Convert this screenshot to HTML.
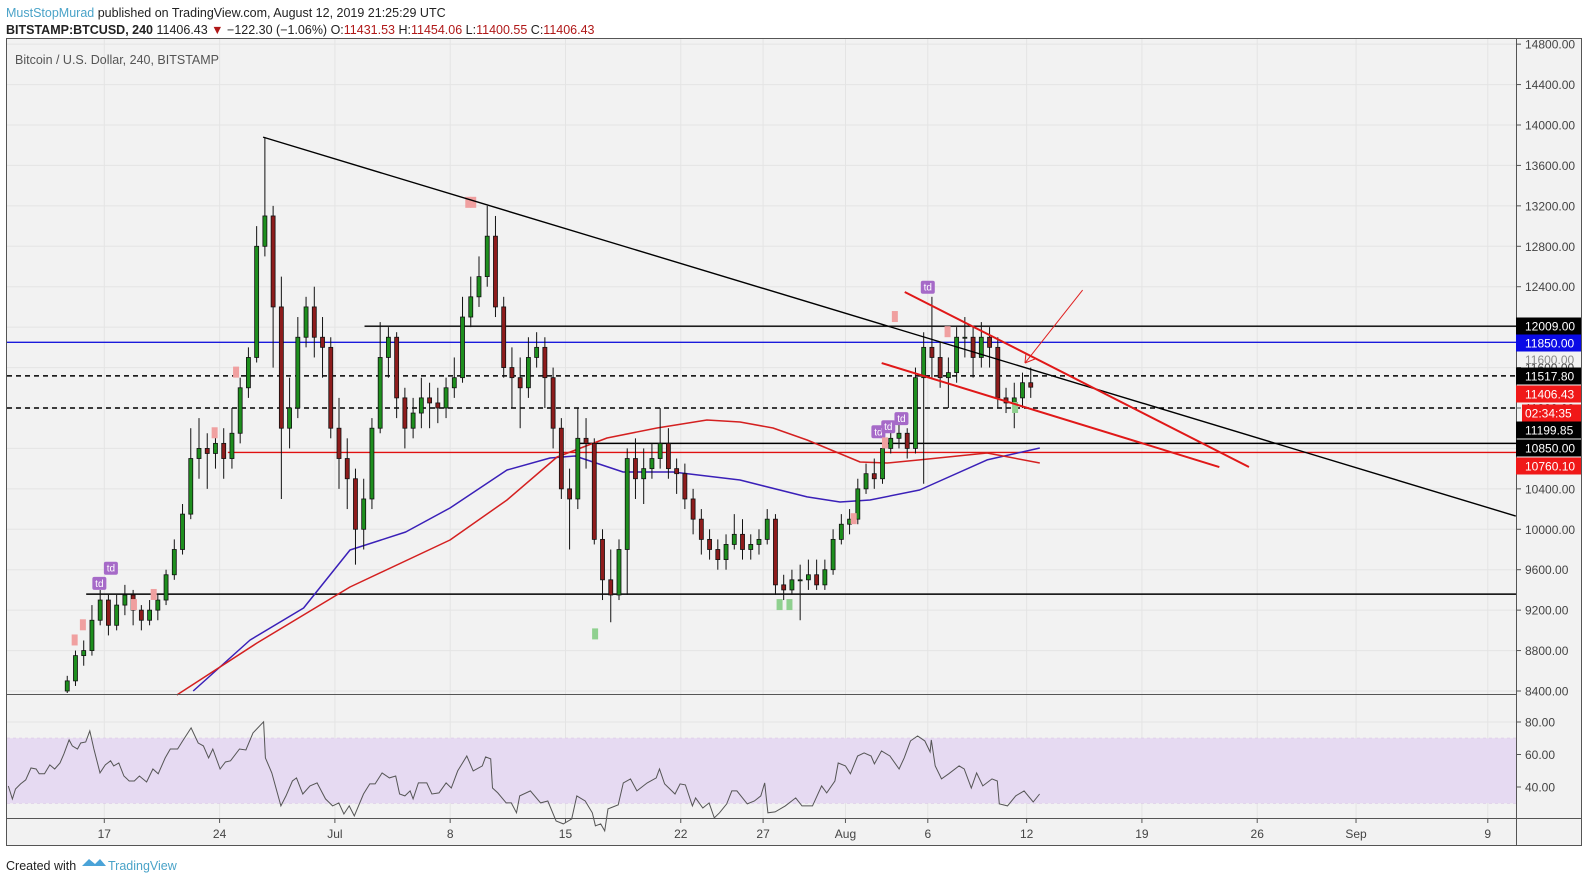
<!DOCTYPE html>
<html><head><meta charset="utf-8">
<style>
html,body{margin:0;padding:0;background:#fff;}
body{width:1588px;height:883px;overflow:hidden;font-family:"Liberation Sans",sans-serif;}
svg text{font-family:"Liberation Sans",sans-serif;}
</style></head>
<body>
<svg id="chart" width="1588" height="883" xmlns="http://www.w3.org/2000/svg">
  <text x="6" y="17" font-size="12.5" fill="#222"><tspan fill="#4aa3c8">MustStopMurad</tspan> published on TradingView.com, August 12, 2019 21:25:29 UTC</text>
  <text x="6" y="34" font-size="12.5" fill="#222"><tspan font-weight="bold">BITSTAMP:BTCUSD, 240</tspan> 11406.43 <tspan fill="#b01818">▼</tspan> −122.30 (−1.06%) O:<tspan fill="#b01818">11431.53</tspan> H:<tspan fill="#b01818">11454.06</tspan> L:<tspan fill="#b01818">11400.55</tspan> C:<tspan fill="#b01818">11406.43</tspan></text>
  <rect x="6.5" y="38.5" width="1575" height="807" fill="#f2f2f2" stroke="#555"/>
  <g id="grid"></g>
  <rect id="rsiband" x="7" y="738" width="1509" height="65" fill="#e6daf2"/>
  <g id="hlines"></g>
  <g id="mas"></g>
  <g id="candles"></g>
  <g id="marks"></g>
  <g id="draw"></g>
  <g id="rsi"></g>
  <line x1="6" y1="694.5" x2="1516" y2="694.5" stroke="#555"/>
  <line x1="6" y1="818.5" x2="1582" y2="818.5" stroke="#555"/>
  <line x1="1516.5" y1="38" x2="1516.5" y2="846" stroke="#555"/>
  <g id="axes"></g>
  <g id="tags"></g>
  <text x="15" y="64" font-size="12.5" fill="#555">Bitcoin / U.S. Dollar, 240, BITSTAMP</text>
  <text x="6" y="870" font-size="12.5" fill="#222">Created with</text>
  <path d="M82 866 l7 -7 l6 5 l5 -5 l6 7 z" fill="#4aa3d8"/>
  <text x="108" y="870" font-size="12.5" fill="#4aa3c8">TradingView</text>
</svg>
<script>
// ---- data ----
const closes=[8500,8750,8800,9100,9300,9050,9250,9350,9200,9100,9200,9300,9550,9800,10150,10700,10800,10750,10850,10700,10950,11400,11700,12800,13100,12200,11000,11200,11900,12200,11900,11800,11000,10700,10500,10000,10300,11000,11700,11900,11300,11000,11150,11300,11250,11200,11400,11500,12100,12300,12500,12900,12200,11600,11500,11400,11700,11800,11500,11000,10400,10300,10900,10850,9900,9500,9350,9800,10700,10500,10600,10700,10850,10600,10550,10300,10100,9900,9800,9700,9850,9950,9800,9850,9900,10100,9450,9400,9500,9500,9550,9450,9600,9900,10050,10100,10400,10550,10500,10800,10900,10950,10800,11500,11800,11700,11500,11550,11900,11900,11700,11900,11800,11300,11250,11300,11450,11406];
const highs=[8550,8800,8900,9250,9400,9350,9350,9450,9400,9250,9300,9350,9600,9900,10250,11000,11100,10950,11000,11000,11200,11500,11800,13000,13880,13200,12500,11500,12100,12300,12400,12100,11900,11300,10900,10600,10500,11100,12050,12000,11950,11400,11300,11500,11450,11400,11500,11700,12300,12500,12700,13200,13100,12300,11800,11700,11900,11950,11900,11600,11100,10600,11200,11100,10900,10000,9800,9900,10800,10900,10800,10850,11200,11000,10700,10650,10400,10200,10000,9900,9950,10150,10100,9950,10000,10200,10150,9550,9600,9650,9700,9700,9700,10000,10150,10200,10500,10650,10700,10900,11050,11100,11000,11600,11950,12300,11850,11700,12000,12100,12000,12050,12000,11900,11400,11450,11550,11600];
const lows=[8350,8450,8650,8750,9050,8950,9000,9150,9050,9000,9050,9100,9250,9500,9750,10100,10500,10400,10600,10500,10600,10850,11300,11650,12700,11600,10300,10800,11100,11800,11700,11500,10900,10400,10200,9650,9800,10200,10950,11500,11100,10800,10900,11000,11000,11050,11100,11300,11450,12000,12200,12400,12100,11500,11200,11000,11300,11600,11200,10800,10300,9800,10200,10600,9850,9300,9080,9300,9350,10300,10250,10500,10600,10500,10350,10200,9950,9750,9700,9600,9600,9800,9700,9700,9750,9850,9350,9300,9350,9100,9400,9400,9400,9550,9850,9950,10050,10350,10400,10450,10750,10800,10700,10750,10450,11500,11400,11200,11450,11700,11500,11600,11600,11200,11150,11000,11200,11300];
const firstOpen=8400;
const startDay=-2.5;
const barDays=0.5;

const ma1Days=[5.4,8.85,12.1,14.92,18.3,20.99,24.45,27.06,28.58,31.5,34.53,38.6,42.67,44.67,46.49,49.5,53.6,56.8];
const ma1Vals=[8400,8905,9221,9795,9973,10211,10587,10705,10725,10567,10567,10488,10320,10270,10290,10389,10686,10804];
const ma2Days=[4.4,9.27,14.92,20.99,24.45,27.49,30.52,33.56,36.59,38.6,40.6,42.67,45.89,47.53,49.5,53.6,56.8];
const ma2Vals=[8360,8875,9429,9894,10290,10715,10903,11002,11081,11061,11002,10883,10666,10656,10686,10755,10656];

const rsiDays=[-5.83,-5.58,-5.39,-5.08,-4.77,-4.45,-4.14,-3.95,-3.63,-3.31,-3.01,-2.69,-2.45,-2.14,-1.94,-1.63,-1.43,-1.13,-0.88,-0.63,-0.26,0.06,0.38,0.57,0.88,1.19,1.51,1.82,2.13,2.57,2.95,3.27,3.70,4.01,4.45,4.76,5.27,5.70,6.02,6.33,6.59,7.03,7.35,7.66,8.21,8.60,9.03,9.67,9.78,10.17,10.72,11.03,11.42,11.67,12.05,12.49,12.92,13.43,13.86,14.24,14.55,14.87,15.18,15.74,16.12,16.44,16.87,17.31,17.69,17.93,18.25,18.57,18.75,19.07,19.58,19.89,20.32,20.75,21.07,21.46,22.01,22.40,22.95,23.15,23.46,23.57,23.89,24.40,24.71,25.03,25.22,25.87,26.49,26.93,27.43,27.87,28.38,28.69,29.20,29.63,29.82,30.14,30.38,30.58,31.20,31.51,31.95,32.34,32.96,33.51,33.71,34.02,34.65,34.96,35.28,35.71,35.90,36.34,36.72,37.04,37.35,37.79,38.10,38.41,39.04,39.47,39.86,40.10,40.29,40.73,41.35,41.98,42.36,43.00,43.55,43.86,44.36,44.56,45.00,45.30,45.74,46.13,46.56,46.76,47.19,47.70,48.26,48.57,48.95,49.38,49.82,50.14,50.21,50.45,50.83,51.27,51.90,52.21,52.64,52.96,53.34,53.90,54.22,54.34,54.84,55.34,55.85,56.40,56.79];
const rsiVals=[40.6,32.6,38.8,41.9,44.4,51.7,51.1,48.1,48.1,53.6,51.1,54.8,60.4,69.0,65.3,63.4,67.1,67.7,74.5,63.4,48.7,53.6,56.1,53.0,54.8,46.8,43.7,43.7,46.8,43.1,51.1,48.1,57.9,63.4,63.4,68.4,76.4,67.1,65.3,57.9,63.4,51.1,55.4,56.1,63.4,62.8,73.3,80.1,57.9,48.7,28.4,34.5,43.7,45.6,35.7,40.7,42.5,32.7,28.4,30.2,23.4,28.4,22.2,35.7,41.9,41.9,48.7,45.6,46.8,35.7,34.5,37.6,32.7,42.5,42.5,35.7,36.4,42.5,39.4,49.9,59.1,49.9,53.0,58.5,57.3,39.4,36.4,30.2,30.2,24.1,34.5,37.6,30.2,31.4,19.1,17.3,20.4,34.5,31.4,24.1,16.1,17.3,13.0,26.5,29.0,42.5,45.0,37.6,42.5,45.6,51.1,41.9,35.7,41.9,41.3,28.4,33.3,27.1,30.2,21.0,24.1,29.6,37.6,37.6,29.6,31.4,34.5,42.5,24.1,24.7,28.4,33.3,28.4,28.4,40.7,36.4,43.7,54.8,53.0,48.1,59.1,61.0,59.1,54.2,62.2,59.1,51.1,57.9,68.4,71.4,68.4,61.6,69.0,53.0,45.0,48.1,53.0,51.1,39.4,48.7,40.7,45.0,43.7,29.6,28.4,34.5,37.6,30.8,35.7];

const priceTicks=[14800,14400,14000,13600,13200,12800,12400,12000,11600,11200,10800,10400,10000,9600,9200,8800,8400];
const rsiTicks=[80,60,40];
const dateLabels=['17','24','Jul','8','15','22','27','Aug','6','12','19','26','Sep','9'];
const dateDays=[0,7,14,21,28,35,40,45,50,56,63,70,76,84];

const levelNames=['resistance-12009','level-11850','level-11517','level-11199','support-10850','level-10760','support-9358'];
const levelPrices=[12009,11850,11517.8,11199.85,10850,10760.1,9358.4];
const levelStartDays=[15.8,-6.0,-6.0,-6.0,28.7,7.5,-1.1];

const trendDays=[9.64,85.7], trendPrices=[13880,10131];
const upperDays=[48.6,69.5], upperPrices=[12348,10616];
const lowerDays=[47.2,67.7], lowerPrices=[11645,10616];
const arrowDays=[59.4,55.9], arrowPrices=[12367,11645];

const tdDays=[-0.3,0.4,50.0,47.0,47.6,48.4];
const tdPrices=[9450,9600,12380,10950,11000,11080];
const pinkDays=[-1.8,-1.3,1.8,3.0,6.7,8.0,22.1,22.4,48.0,51.2,45.5,47.4];
const pinkPrices=[8900,9050,9250,9350,10950,11550,13230,13230,12100,11950,10100,10850];
const greenDays=[29.8,41.0,41.6,55.3];
const greenPrices=[8960,9250,9250,11200];

// ---- axes ----
const X0=104.3, PXD=16.47;
const xDay=d=>X0+d*PXD;
const yP=p=>125+(14000-p)*0.10107;
const yR=v=>722+(80-v)*1.625;
const NS='http://www.w3.org/2000/svg';
function mk(tag,attrs,parent){const e=document.createElementNS(NS,tag);for(const k in attrs)e.setAttribute(k,attrs[k]);document.getElementById(parent).appendChild(e);return e;}

priceTicks.forEach(p=>{const y=yP(p);if(y<40||y>692)return;
 const g=mk('line',{x1:7,x2:1516,y1:y,y2:y,stroke:'#e4e4e4'},'grid');
 
 });
dateDays.forEach(d=>{const x=xDay(d);
 const g=mk('line',{x1:x,x2:x,y1:39,y2:818,stroke:'#e4e4e4'},'grid');
 
 });
[80,60,40].forEach(v=>{const y=yR(v);
 const g=mk('line',{x1:7,x2:1516,y1:y,y2:y,stroke:'#e4e4e4'},'grid');
 
 });
const band=document.getElementById('rsiband');band.setAttribute('y',yR(70));band.setAttribute('height',yR(30)-yR(70));
[70,30].forEach(v=>{const l=mk('line',{x1:7,x2:1516,y1:yR(v),y2:yR(v),stroke:'#d8c4e4','stroke-dasharray':'3,3'},'grid');
 
 });

priceTicks.forEach(p=>{const y=yP(p);if(y<40||y>694)return;
 const t=mk('line',{x1:1516,x2:1521,y1:y,y2:y,stroke:'#555'},'axes');
 
 
 const l=mk('text',{x:1525,y:y+4.5,'font-size':12,fill:'#444'},'axes');l.textContent=p.toFixed(2);
 
 });
rsiTicks.forEach(v=>{const y=yR(v);
 const t=mk('line',{x1:1516,x2:1521,y1:y,y2:y,stroke:'#555'},'axes');
 
 
 const l=mk('text',{x:1525,y:y+4.5,'font-size':12,fill:'#444'},'axes');l.textContent=v.toFixed(2);
 
 });
dateDays.forEach((d,i)=>{const x=xDay(d);
 const t=mk('line',{x1:x,x2:x,y1:818,y2:823,stroke:'#555'},'axes');
 
 
 const l=mk('text',{x:x,y:838,'font-size':12,fill:'#444','text-anchor':'middle'},'axes');l.textContent=dateLabels[i];
 
 });

const levelColors=['#000','#1a1adc','#000','#000','#000','#e01010','#000'];
const levelDash=['','','5,4','5,4','','',''];
levelPrices.forEach((p,i)=>{const y=yP(p);
 const a={x1:Math.max(7,xDay(levelStartDays[i])),x2:1516,y1:y,y2:y,stroke:levelColors[i],'stroke-width':1.4};
 if(levelDash[i])a['stroke-dasharray']=levelDash[i];
 const l=mk('line',a,'hlines');
 
 });

function poly(days,vals){return days.map((d,i)=>xDay(d).toFixed(1)+','+yP(vals[i]).toFixed(1)).join(' ');}
const m1=mk('polyline',{points:poly(ma1Days,ma1Vals),fill:'none',stroke:'#3a20b8','stroke-width':1.5,'stroke-linejoin':'round'},'mas');


const m2=mk('polyline',{points:poly(ma2Days,ma2Vals),fill:'none',stroke:'#d42020','stroke-width':1.5,'stroke-linejoin':'round'},'mas');



closes.forEach((c,i)=>{const o=i===0?firstOpen:closes[i-1];
 const d=startDay+i*barDays+barDays/2;const x=xDay(d);
 const top=Math.min(yP(o),yP(c)), bot=Math.max(yP(o),yP(c));
 const w=mk('line',{x1:x,x2:x,y1:Math.max(39,yP(highs[i])),y2:Math.min(693,yP(lows[i])),stroke:'#111','stroke-width':1},'candles');
 
 
 const b=mk('rect',{x:x-2,y:Math.max(39,top),width:4,height:Math.max(1,Math.min(693,bot)-Math.max(39,top)),fill:c>=o?'#1e8f1e':'#8e1c1c',stroke:'#111','stroke-width':0.8},'candles');
 
 });

tdDays.forEach((d,i)=>{const x=xDay(d),y=yP(tdPrices[i]);
 const r=mk('rect',{x:x-7,y:y-8,width:14,height:13,rx:2,fill:'#a66ac8'},'marks');
 
 
 const t=mk('text',{x:x,y:y+2,'font-size':10,fill:'#fff','text-anchor':'middle'},'marks');t.textContent='td';
 
 });
pinkDays.forEach((d,i)=>{const r=mk('rect',{x:xDay(d)-3,y:yP(pinkPrices[i])-6,width:6,height:11,fill:'#f0a0a0'},'marks');
 
 });
greenDays.forEach((d,i)=>{const r=mk('rect',{x:xDay(d)-3,y:yP(greenPrices[i])-6,width:6,height:11,fill:'#8fd08f'},'marks');
 
 });

function seg(days,prices,color,w,name){const l=mk('line',{x1:xDay(days[0]),y1:yP(prices[0]),x2:Math.min(1516,xDay(days[1])),y2:yP(prices[1]),stroke:color,'stroke-width':w},'draw');
 
 return l;}
seg(trendDays,trendPrices,'#000',1.4,'descending-trendline');
seg(upperDays,upperPrices,'#e01818',2,'wedge-upper-line');
seg(lowerDays,lowerPrices,'#e01818',2,'wedge-lower-line');
seg(arrowDays,arrowPrices,'#e02020',1,'annotation-arrow');
{const x=xDay(arrowDays[1]),y=yP(arrowPrices[1]);
 const h=mk('path',{d:`M${x} ${y} l1 -10 M${x} ${y} l10 -4`,stroke:'#e02020','stroke-width':1,fill:'none'},'draw');
 
 }

const rl=mk('polyline',{points:rsiDays.map((d,i)=>xDay(d).toFixed(1)+','+yR(rsiVals[i]).toFixed(1)).join(' '),fill:'none',stroke:'#555','stroke-width':1},'rsi');



const tagTexts=['12009.00','11850.00','11517.80','11406.43','02:34:35','11199.85','10850.00','10760.10'];
const tagY=[326,343,376,394,413,430,448,466];
const tagBg=['#000','#0a0ae6','#000','#f01818','#f01818','#000','#000','#f01818'];
const ft=mk('text',{x:1525,y:364,'font-size':12,fill:'#888'},'tags');ft.textContent='11600.00';


tagTexts.forEach((t,i)=>{const x0=i===4?1522:1516;
 const r=mk('rect',{x:x0,y:tagY[i]-8.5,width:1581-x0,height:17,fill:tagBg[i]},'tags');
 
 
 const l=mk('text',{x:1525,y:tagY[i]+4.5,'font-size':12,fill:'#fff'},'tags');l.textContent=t;
 
 });
</script>
</body></html>
